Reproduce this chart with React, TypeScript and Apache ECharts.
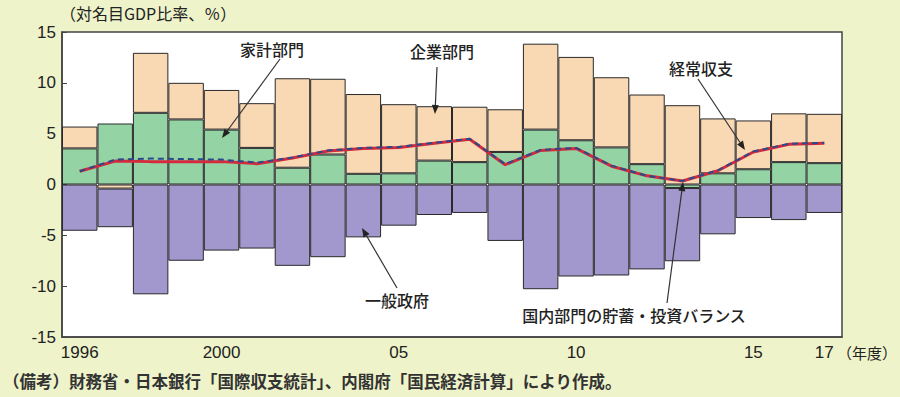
import React, { useEffect, useRef } from "react";
import * as echarts from "echarts";

const years = ["1996","1997","1998","1999","2000","2001","2002","2003","2004","2005","2006","2007","2008","2009","2010","2011","2012","2013","2014","2015","2016","2017"];
const xTickLabels: Record<string, string> = { "1996": "1996", "2000": "2000", "2005": "05", "2010": "10", "2015": "15", "2017": "17" };
const household = [3.55, 6.0, 7.05, 6.4, 5.4, 3.6, 1.65, 2.95, 1.05, 1.1, 2.35, 2.2, 3.2, 5.4, 4.35, 3.65, 2.0, -0.35, 1.1, 1.5, 2.2, 2.1];
const corporate = [2.15, -0.4, 5.9, 3.6, 3.9, 4.4, 8.8, 7.45, 7.85, 6.8, 5.35, 5.45, 4.2, 8.45, 8.2, 6.9, 6.85, 7.8, 5.4, 4.8, 4.8, 4.85];
const government = [-4.55, -3.8, -10.8, -7.5, -6.5, -6.3, -8.0, -7.15, -5.2, -4.05, -3.0, -2.8, -5.55, -10.3, -9.05, -8.95, -8.35, -7.2, -4.9, -3.3, -3.5, -2.8];
const currentAccount = [1.3, 2.3, 2.25, 2.25, 2.25, 2.05, 2.6, 3.3, 3.55, 3.65, 4.05, 4.45, 1.95, 3.35, 3.55, 1.8, 0.85, 0.35, 1.35, 3.2, 3.95, 4.05];
const domesticBalance = [1.3, 2.45, 2.55, 2.5, 2.45, 2.15, 2.65, 3.35, 3.6, 3.7, 4.1, 4.5, 2.0, 3.4, 3.6, 1.85, 0.85, 0.35, 1.4, 3.25, 4.0, 4.1];
const yTicks = { min: -15, max: 15, interval: 5 };

const JP = '"Noto Sans CJK JP", "Noto Sans", sans-serif';
const LAT = '"Liberation Sans", Arial, sans-serif';

function arrow(x1: number, y1: number, x2: number, y2: number) {
  const dx = x2 - x1, dy = y2 - y1;
  const len = Math.sqrt(dx * dx + dy * dy);
  const ux = dx / len, uy = dy / len;
  const hl = 9, hw = 3.5;
  const bx = x2 - ux * hl, by = y2 - uy * hl;
  return [
    { type: "line", shape: { x1, y1, x2: bx, y2: by }, style: { stroke: "#333", lineWidth: 1.2 }, z: 100 },
    {
      type: "polygon",
      shape: { points: [[x2, y2], [bx - uy * hw, by + ux * hw], [bx + uy * hw, by - ux * hw]] },
      style: { fill: "#222" },
      z: 100,
    },
  ];
}

function label(text: string, x: number, y: number) {
  return {
    type: "text",
    x, y,
    style: { text, font: `500 16px ${JP}`, fill: "#222", align: "center", verticalAlign: "middle" },
    z: 100,
  };
}

export default function App() {
  const ref = useRef<HTMLDivElement>(null);
  useEffect(() => {
    document.body.style.margin = "0";
    const chart = echarts.init(ref.current!, null, { renderer: "svg" });
    const barStyle = (color: string) => ({ color, borderColor: "#2a2a2a", borderWidth: 1 });
    chart.setOption({
      animation: false,
      backgroundColor: "#EEF3C9",
      grid: { left: 62, right: 58, top: 32, bottom: 60, show: true, backgroundColor: "#ffffff", borderColor: "#444", borderWidth: 1.5 },
      xAxis: {
        type: "category",
        data: years,
        axisLine: { onZero: false, lineStyle: { color: "#444", width: 1.5 } },
        axisTick: { show: false },
        axisLabel: {
          interval: 0,
          margin: 7,
          color: "#222",
          fontSize: 17,
          fontFamily: LAT,
          formatter: (v: string) => xTickLabels[v] ?? "",
        },
      },
      yAxis: {
        type: "value",
        min: yTicks.min,
        max: yTicks.max,
        interval: yTicks.interval,
        splitLine: { show: false },
        axisLine: { show: true, lineStyle: { color: "#444", width: 1.5 } },
        axisTick: { show: true, inside: true, length: 5, lineStyle: { color: "#444" } },
        axisLabel: { color: "#222", fontSize: 17, fontFamily: LAT, margin: 6 },
      },
      series: [
        { name: "家計部門", type: "bar", stack: "s", data: household, barCategoryGap: "0%", itemStyle: barStyle("#93D3A4") },
        { name: "企業部門", type: "bar", stack: "s", data: corporate, itemStyle: barStyle("#F9D8B4") },
        { name: "一般政府", type: "bar", stack: "s", data: government, itemStyle: barStyle("#A398CE") },
        { name: "経常収支", type: "line", data: currentAccount, symbol: "none", z: 5, lineStyle: { color: "#D42A3C", width: 3 } },
        { name: "国内部門の貯蓄・投資バランス", type: "line", data: domesticBalance, symbol: "none", z: 6, lineStyle: { color: "#2B4A8A", width: 2, type: [6, 4] } },
      ],
      graphic: [
        { type: "text", x: 60, y: 13, style: { text: "（対名目GDP比率、％）", font: `16px ${JP}`, fill: "#222", verticalAlign: "middle" } },
        { type: "text", x: 837, y: 352, style: { text: "（年度）", font: `15px ${JP}`, fill: "#222", verticalAlign: "middle" } },
        { type: "text", x: 3, y: 381, style: { text: "（備考）財務省・日本銀行「国際収支統計」、内閣府「国民経済計算」により作成。", font: `bold 16.5px ${JP}`, fill: "#333", verticalAlign: "middle" } },
        label("家計部門", 272, 49),
        label("企業部門", 442, 51),
        label("経常収支", 701, 68),
        label("一般政府", 397, 300),
        label("国内部門の貯蓄・投資バランス", 634, 315),
        ...arrow(280, 59, 222, 138),
        ...arrow(437, 67, 435, 114),
        ...arrow(698, 79, 745, 150),
        ...arrow(397, 288, 362, 228),
        ...arrow(667, 303, 683, 182),
      ],
    });
    return () => chart.dispose();
  }, []);
  return <div ref={ref} style={{ position: "fixed", left: 0, top: 0, width: 900, height: 397 }} />;
}
